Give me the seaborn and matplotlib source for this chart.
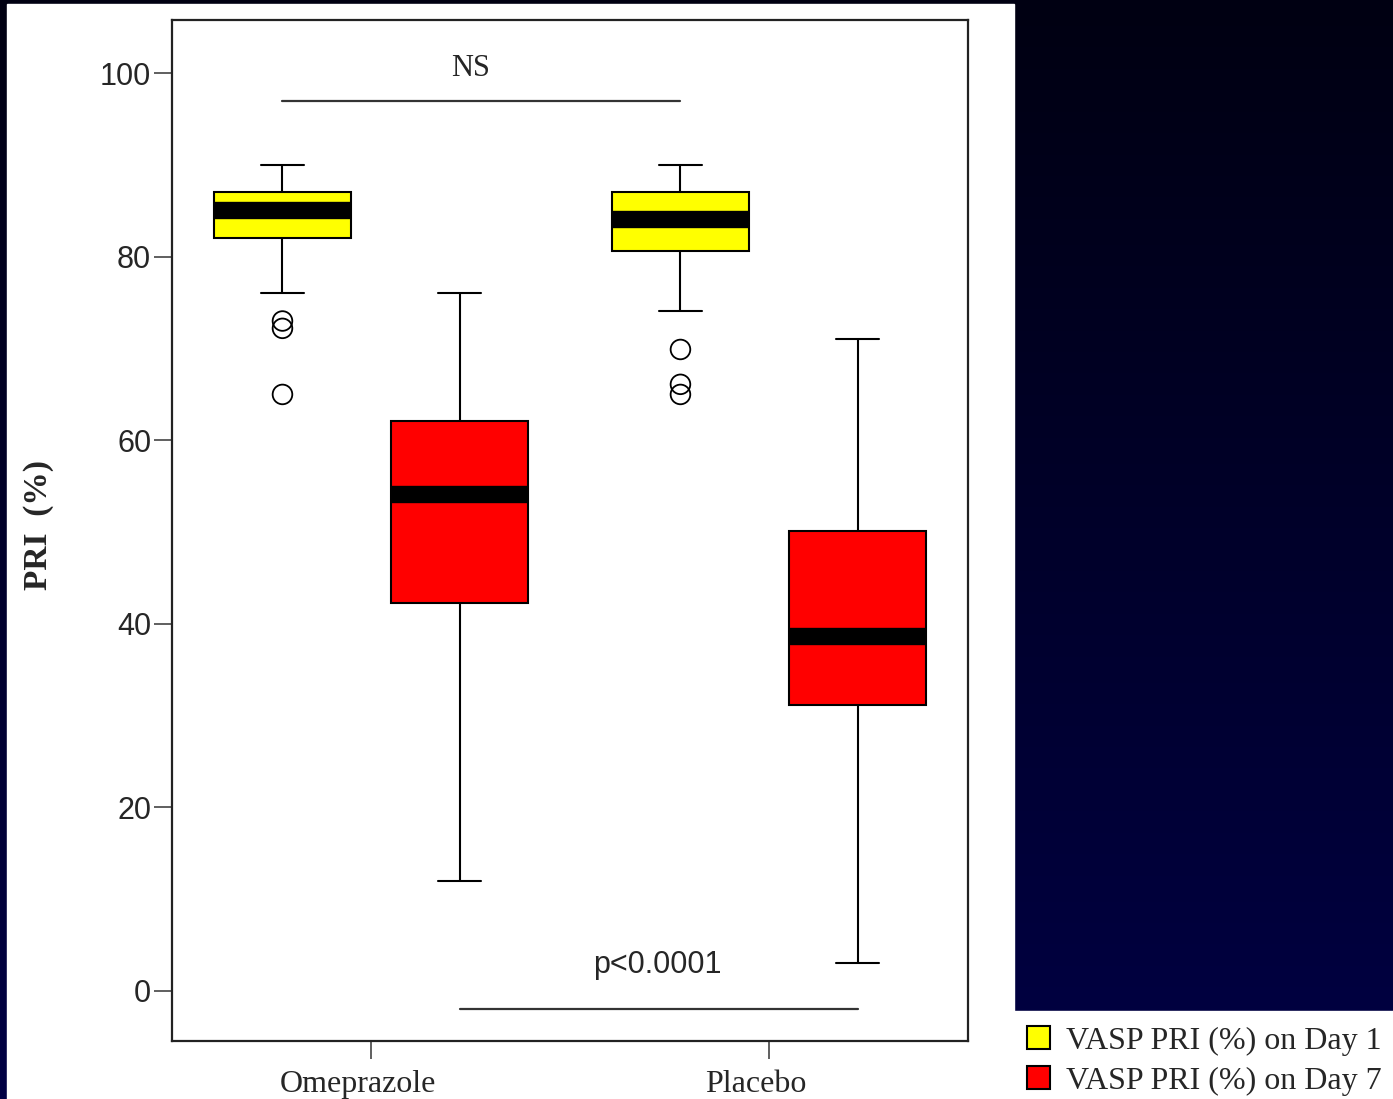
import numpy as np
import pandas as pd
import matplotlib.pyplot as plt
import matplotlib.transforms as mtransforms
from matplotlib.colors import LinearSegmentedColormap
import seaborn as sns

# five-number summaries (min, Q1, median, Q3, max)
groups = ['Omeprazole', 'Placebo']
days = ['VASP PRI (%) on Day 1', 'VASP PRI (%) on Day 7']
omep_day1 = [76, 82.1, 85.1, 87.1, 90]
omep_day7 = [12, 42.3, 54.1, 62.1, 76]
plac_day1 = [74.1, 80.6, 84.1, 87.1, 90]
plac_day7 = [3, 31.2, 38.7, 50.1, 71]

# outliers (Day 1 only)
omep_out = [73, 72.2, 65]
plac_out = [69.9, 66.1, 65]

rows = []
for g, d, vals in [('Omeprazole', days[0], omep_day1), ('Omeprazole', days[1], omep_day7),
                   ('Placebo', days[0], plac_day1), ('Placebo', days[1], plac_day7)]:
    for v in vals:
        rows.append({'group': g, 'day': d, 'PRI': v})
df = pd.DataFrame(rows)

sns.set_theme(style='white')
plt.rcParams['font.family'] = ['Liberation Sans', 'DejaVu Sans']

fig = plt.figure(figsize=(13.93, 10.99), dpi=100)

# slide background: dark navy gradient + white panels
bg = fig.add_axes([0, 0, 1, 1], zorder=-10)
grad = np.linspace(0, 1, 256).reshape(-1, 1)
bg.imshow(grad, aspect='auto', extent=[0, 1, 0, 1], origin='lower',
          cmap=LinearSegmentedColormap.from_list('bgc', ['#000044', '#000012']))
bg.add_patch(plt.Rectangle((0.005, 0), 0.7229, 0.9964, color='white'))
bg.add_patch(plt.Rectangle((0.7279, 0), 0.28, 0.0801, color='white'))
bg.set_xlim(0, 1)
bg.set_ylim(0, 1)
bg.axis('off')

ax = fig.add_axes([0.1235, 0.0528, 0.5714, 0.9290])
ax.set_facecolor('white')

box_w = 0.89
sns.boxplot(data=df, x='group', y='PRI', hue='day', order=groups, hue_order=days,
            palette={days[0]: '#FFFF00', days[1]: '#FF0000'}, saturation=1,
            width=box_w, gap=0.23, whis=(0, 100), linecolor='black', linewidth=1.5,
            fliersize=0, medianprops=dict(linewidth=12.5, color='black'), capwidths=0.11, ax=ax)

# outliers at the Day 1 box positions
for i, outs in enumerate([omep_out, plac_out]):
    xs = [i - box_w / 4] * len(outs)
    ax.scatter(xs, outs, s=200, facecolors='none', edgecolors='black', linewidths=1.3, zorder=5)

ax.set_xlim(-0.5, 1.5)
ax.set_ylim(-5.45, 105.8)
ax.set_yticks([0, 20, 40, 60, 80, 100])
ax.tick_params(axis='y', labelsize=22, length=13, width=1.2, color='#444444', pad=2, left=True)
ax.tick_params(axis='x', length=13, width=1.2, color='#444444', pad=8, bottom=True)
shift = mtransforms.ScaledTranslation(-13 / 100, 0, fig.dpi_scale_trans)
for lab in ax.get_xticklabels():
    lab.set_fontfamily('Liberation Serif')
    lab.set_fontsize(23)
    lab.set_transform(lab.get_transform() + shift)
ax.set_xlabel('')
ax.set_ylabel('PRI  (%)', fontsize=24, fontweight='bold', family='Liberation Serif')
ax.yaxis.set_label_coords(-0.148, 0.505)
for s in ax.spines.values():
    s.set_color('#222222')
    s.set_linewidth(1.6)

# significance annotations
ax.plot([0 - box_w / 4, 1 - box_w / 4], [97, 97], color='#333333', lw=1.6)
ax.text(0.25, 100.5, 'NS', ha='center', va='center', fontsize=22, family='Liberation Serif')
ax.plot([0 + box_w / 4, 1 + box_w / 4], [-2, -2], color='#333333', lw=1.6)
ax.text(0.72, 2.8, 'p<0.0001', ha='center', va='center', fontsize=22)

sns.move_legend(ax, loc='lower left', bbox_to_anchor=(0.737, 0.003), bbox_transform=fig.transFigure,
                frameon=False, title=None, fontsize=23, handlelength=0.72, handleheight=0.72,
                handletextpad=0.5, labelspacing=0.33, borderpad=0, borderaxespad=0)
for t in ax.get_legend().get_texts():
    t.set_fontfamily('Liberation Serif')

fig.savefig('out.png', dpi=100)
